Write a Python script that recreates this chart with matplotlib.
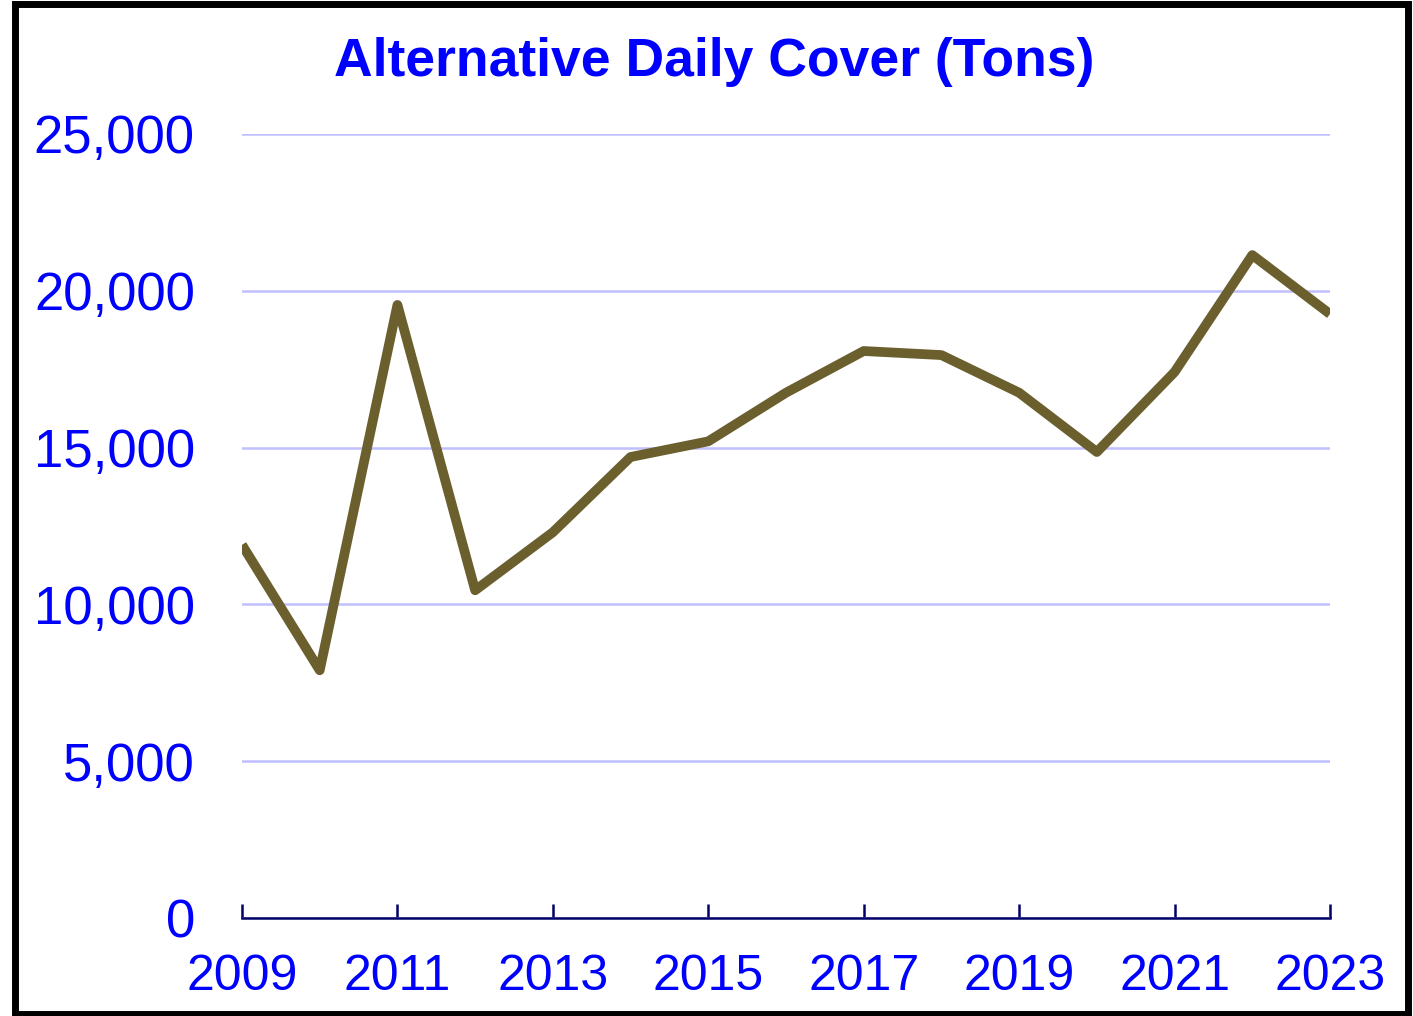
import matplotlib
matplotlib.use("Agg")
import matplotlib.pyplot as plt
from matplotlib.patches import Rectangle

years = list(range(2009, 2024))
tons = [11900, 7900, 19550, 10450, 12300, 14700, 15200, 16750, 18080, 17950,
        16750, 14860, 17410, 21140, 19260]
x_ticks = [2009, 2011, 2013, 2015, 2017, 2019, 2021, 2023]
y_ticks = [0, 5000, 10000, 15000, 20000, 25000]
title = "Alternative Daily Cover (Tons)"

plt.rcParams['font.family'] = ['Liberation Sans', 'DejaVu Sans']

fig = plt.figure(figsize=(14.13, 10.16), dpi=100)
ax = fig.add_axes([242/1413, 1-918/1016, (1330-242)/1413, (918-134)/1016])

ax.plot(years, tons, color='#6B5F2E', linewidth=7, solid_joinstyle='round', solid_capstyle='butt', zorder=3)
ax.set_xlim(2009, 2023)
ax.set_ylim(0, 25000)
ax.set_xticks(x_ticks)
ax.set_xticklabels([str(y) for y in x_ticks])
ax.set_yticks(y_ticks)
ax.set_yticklabels([f"{v:,}" for v in y_ticks])

ax.grid(axis='y', color='#C0C0FF', linewidth=1.8, zorder=0)
ax.set_axisbelow(True)
for s in ['top', 'right', 'left']:
    ax.spines[s].set_visible(False)
ax.spines['bottom'].set_color('#000066')
ax.spines['bottom'].set_linewidth(1.8)
ax.tick_params(axis='x', direction='in', length=10, width=1.8, color='#000066',
               labelsize=36, labelcolor='#0000FF', pad=26)
ax.tick_params(axis='y', length=0, labelsize=38, labelcolor='#0000FF', pad=34)

fig.text(714/1413, 1-62/1016, title, ha='center', va='center', fontsize=38.5,
         fontweight='bold', color='#0000FF')

fig.patches.append(Rectangle((15/1413, 2/1016), (1408-15)/1413, (1010)/1016,
                             transform=fig.transFigure, fill=False,
                             edgecolor='black', linewidth=5))

fig.savefig('out.png', dpi=100)
